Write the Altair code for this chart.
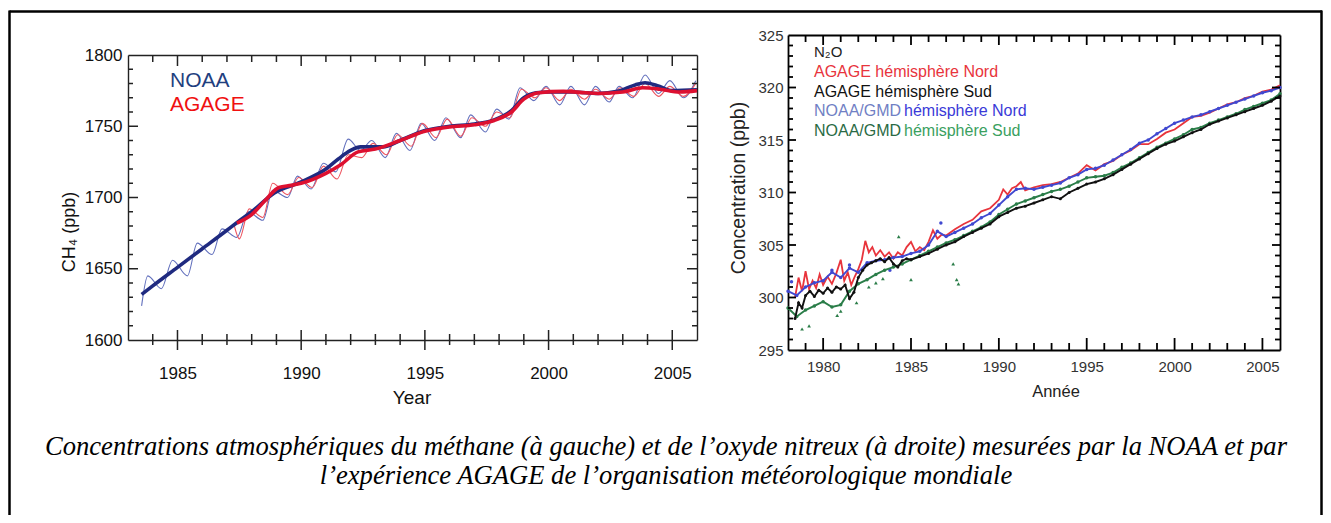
import altair as alt
import pandas as pd

W, H = 1315, 507

# ---------------- CH4 (left panel) ----------------
noaa_thin_year = [1983.55, 1983.8, 1984.35, 1984.8, 1985.4, 1985.8, 1986.4, 1986.8, 1987.4, 1987.85,
                  1988.45, 1988.85, 1989.45, 1989.85, 1990.4, 1990.9, 1991.4, 1991.9, 1992.4, 1992.85,
                  1993.4, 1993.85, 1994.4, 1994.85, 1995.4, 1995.85, 1996.45, 1996.85, 1997.45, 1997.9,
                  1998.4, 1998.85, 1999.4, 1999.9, 2000.45, 2000.9, 2001.45, 2001.9, 2002.45, 2002.85,
                  2003.4, 2003.9, 2004.45, 2004.9, 2005.45, 2005.95]
noaa_thin_val = [1624, 1645, 1636, 1656, 1645, 1668, 1660, 1678, 1672, 1690,
                 1684, 1705, 1700, 1715, 1706, 1724, 1718, 1741, 1733, 1740,
                 1728, 1745, 1733, 1752, 1740, 1756, 1742, 1758, 1746, 1762,
                 1755, 1777, 1768, 1778, 1765, 1778, 1765, 1778, 1767, 1778,
                 1770, 1786, 1773, 1782, 1770, 1782]

noaa_trend_year = [1983.55, 1984.0, 1985.0, 1986.0, 1987.0, 1987.45, 1988.0, 1988.9, 1990.0, 1991.0,
                   1991.5, 1992.0, 1992.4, 1993.3, 1994.0, 1995.0, 1996.0, 1997.0, 1997.8, 1998.5,
                   1999.0, 1999.5, 2000.0, 2001.0, 2002.0, 2002.8, 2003.5, 2003.9, 2004.4, 2005.0, 2006.0]
noaa_trend_val = [1632, 1638, 1651, 1664, 1677, 1683, 1690, 1703, 1711, 1720,
                  1727, 1733, 1735.5, 1735.5, 1740, 1747, 1750, 1751.5, 1754.5, 1761,
                  1770, 1773.5, 1774, 1774, 1773, 1774.5, 1779, 1780.5, 1778.5, 1775, 1775.5]

agage_thin_year = [1987.3, 1987.5, 1987.9, 1988.45, 1988.85, 1989.45, 1989.9, 1990.45, 1990.9, 1991.45,
                   1991.9, 1992.45, 1992.9, 1993.45, 1993.9, 1994.45, 1994.9, 1995.45, 1995.9, 1996.45,
                   1996.9, 1997.45, 1997.9, 1998.45, 1998.9, 1999.45, 1999.9, 2000.45, 2000.9, 2001.45,
                   2001.9, 2002.45, 2002.9, 2003.45, 2003.9, 2004.45, 2004.9, 2005.45, 2005.95]
agage_thin_val = [1680, 1671, 1692, 1686, 1710, 1702, 1714, 1707, 1722, 1713,
                  1730, 1728, 1738, 1730, 1744, 1736, 1752, 1742, 1755, 1743,
                  1756, 1750, 1760, 1756, 1776, 1770, 1777, 1768, 1776, 1769,
                  1776, 1769, 1777, 1771, 1780, 1771, 1778, 1771, 1780]

agage_trend_year = [1987.4, 1988.0, 1988.6, 1989.1, 1989.6, 1990.0, 1991.0, 1991.6, 1992.3, 1993.0,
                    1994.0, 1995.0, 1996.0, 1997.0, 1997.8, 1998.5, 1999.0, 1999.6, 2000.6, 2001.5,
                    2002.0, 2003.0, 2003.8, 2004.5, 2005.3, 2006.0]
agage_trend_val = [1682, 1688, 1699, 1707, 1708.5, 1710, 1717, 1723, 1732, 1734,
                   1740, 1746.5, 1749.5, 1751, 1754, 1760, 1769, 1773.5, 1774.5, 1773.5,
                   1773, 1774, 1777, 1776, 1774, 1775]

# ---------------- N2O (right panel) ----------------
agage_nh_year = [1978.4, 1978.6, 1978.8, 1979.0, 1979.2, 1979.4, 1979.6, 1979.8, 1980.0, 1980.25,
                 1980.5, 1980.75, 1981.0, 1981.2, 1981.4, 1981.6, 1981.8, 1982.0, 1982.2, 1982.4,
                 1982.6, 1982.8, 1983.0, 1983.25, 1983.5, 1983.75, 1984.0, 1984.25, 1984.5, 1984.75,
                 1985.0, 1985.25, 1985.5, 1985.75, 1986.0, 1986.25, 1986.5, 1986.75, 1987.0, 1987.5,
                 1988.0, 1988.5, 1989.0, 1989.5, 1990.0, 1990.25, 1990.5, 1990.75, 1991.0, 1991.25,
                 1991.5, 1992.0, 1992.5, 1993.0, 1993.5, 1994.0, 1994.5, 1995.0, 1995.5, 1996.0,
                 1996.5, 1997.0, 1997.5, 1998.0, 1998.5, 1999.0, 1999.5, 2000.0, 2000.5, 2001.0,
                 2001.5, 2002.0, 2002.5, 2003.0, 2003.5, 2004.0, 2004.5, 2005.0, 2005.5, 2006.0]
agage_nh_val = [300.0, 301.9, 300.6, 302.5, 300.8, 301.6, 300.9, 302.2, 301.2, 302.0,
                301.3, 302.3, 303.6, 301.6, 302.4, 301.2, 302.0, 302.7, 303.6, 305.4,
                304.3, 304.8, 304.0, 304.5, 303.9, 304.3, 303.7, 304.3, 304.0, 304.8,
                305.3, 304.4, 304.8, 304.5, 305.3, 306.4, 305.6, 306.0, 305.9, 306.5,
                307.0, 307.4, 308.2, 308.5, 309.3, 310.3, 309.8, 310.4, 310.6, 311.0,
                310.2, 310.5, 310.7, 310.8, 311.0, 311.4, 311.8, 312.6, 312.1, 312.7,
                313.0, 313.6, 314.0, 314.6, 314.6, 315.1, 315.7, 316.0, 316.6, 317.2,
                317.3, 317.6, 318.0, 318.4, 318.6, 319.0, 319.2, 319.6, 319.8, 320.2]

agage_sh_year = [1978.4, 1978.6, 1978.8, 1979.0, 1979.25, 1979.5, 1979.75, 1980.0, 1980.25, 1980.5,
                 1980.75, 1981.0, 1981.25, 1981.5, 1981.75, 1982.0, 1982.25, 1982.5, 1982.75, 1983.0,
                 1983.25, 1983.5, 1983.75, 1984.0, 1984.25, 1984.5, 1984.75, 1985.0, 1985.5, 1986.0,
                 1986.5, 1987.0, 1987.5, 1988.0, 1988.5, 1989.0, 1989.5, 1990.0, 1990.5, 1991.0,
                 1991.5, 1992.0, 1992.5, 1993.0, 1993.5, 1994.0, 1994.5, 1995.0, 1995.5, 1996.0,
                 1996.5, 1997.0, 1997.5, 1998.0, 1998.5, 1999.0, 1999.5, 2000.0, 2000.5, 2001.0,
                 2001.5, 2002.0, 2002.5, 2003.0, 2003.5, 2004.0, 2004.5, 2005.0, 2005.5, 2006.0]
agage_sh_val = [298.0, 299.5, 299.0, 300.2, 300.6, 300.1, 300.7, 300.4, 300.9, 300.5,
                301.0, 300.8, 301.2, 299.9, 300.5, 301.9, 302.6, 303.1, 303.3, 303.5,
                303.7, 303.4, 303.8, 303.2, 302.9, 303.5, 303.7, 303.6, 303.9, 304.2,
                304.6, 305.0, 305.3, 305.8, 306.2, 306.6, 307.0, 307.7, 308.1, 308.5,
                308.7, 309.0, 309.3, 309.6, 309.4, 310.0, 310.4, 310.8, 311.0, 311.3,
                311.7, 312.2, 312.7, 313.2, 313.7, 314.2, 314.6, 314.9, 315.3, 315.7,
                316.0, 316.5, 316.8, 317.1, 317.4, 317.7, 318.0, 318.3, 318.7, 319.2]

noaa_year = [1978.0, 1978.5, 1979.0, 1979.5, 1980.0, 1980.5, 1981.0, 1981.5, 1982.0, 1982.5,
             1983.0, 1983.5, 1984.0, 1984.5, 1985.0, 1985.5, 1986.0, 1986.5, 1987.0, 1987.5,
             1988.0, 1988.5, 1989.0, 1989.5, 1990.0, 1990.5, 1991.0, 1991.5, 1992.0, 1992.5,
             1993.0, 1993.5, 1994.0, 1994.5, 1995.0, 1995.5, 1996.0, 1996.5, 1997.0, 1997.5,
             1998.0, 1998.5, 1999.0, 1999.5, 2000.0, 2000.5, 2001.0, 2001.5, 2002.0, 2002.5,
             2003.0, 2003.5, 2004.0, 2004.5, 2005.0, 2005.5, 2006.0]
noaa_nh_val = [300.6, 300.2, 301.0, 301.4, 301.6, 302.4, 301.9, 302.8, 302.4, 303.3,
               303.5, 303.6, 303.8, 303.9, 304.2, 304.4, 305.0, 306.3, 305.8, 306.2,
               306.6, 307.0, 307.6, 308.0, 308.8, 309.6, 310.3, 310.4, 310.3, 310.5,
               310.7, 310.9, 311.4, 311.7, 312.2, 312.3, 312.6, 313.1, 313.6, 314.1,
               314.7, 315.0, 315.6, 316.1, 316.6, 316.9, 317.2, 317.4, 317.7, 318.0,
               318.3, 318.6, 318.9, 319.2, 319.5, 319.7, 320.0]
noaa_sh_val = [299.0, 298.2, 298.8, 299.2, 299.6, 299.1, 299.3, 300.6, 301.3, 301.7,
               302.2, 302.6, 302.9, 303.2, 303.6, 304.0, 304.4, 304.8, 305.2, 305.5,
               305.9, 306.3, 306.7, 307.2, 307.9, 308.4, 308.9, 309.2, 309.5, 309.8,
               310.1, 310.3, 310.6, 311.0, 311.4, 311.5, 311.6, 311.9, 312.4, 312.8,
               313.3, 313.8, 314.3, 314.7, 315.1, 315.5, 316.0, 316.2, 316.6, 316.9,
               317.2, 317.5, 317.9, 318.2, 318.5, 318.8, 319.4]

noaa_sh_out_year = [1978.8, 1979.2, 1980.8, 1981.0, 1981.9, 1982.6, 1983.0, 1983.4, 1984.3, 1985.0,
                    1987.4, 1987.6, 1987.7]
noaa_sh_out_val = [297.0, 297.3, 298.3, 298.7, 299.5, 301.0, 301.4, 301.8, 305.8, 301.7,
                   303.2, 301.7, 301.3]
noaa_nh_out_year = [1978.2, 1980.5, 1981.5, 1983.8, 1986.7]
noaa_nh_out_val = [301.5, 302.6, 303.1, 302.6, 307.1]

caption_lines = ["Concentrations atmosphériques du méthane (à gauche) et de l\u2019oxyde nitreux (à droite) mesurées par la NOAA et par",
                 "l\u2019expérience AGAGE de l\u2019organisation météorologique mondiale"]

# tick values
ch4_year_major = [1985, 1990, 1995, 2000, 2005]
ch4_year_minor = [1984, 1986, 1987, 1988, 1989, 1991, 1992, 1993, 1994, 1996, 1997, 1998, 1999,
                  2001, 2002, 2003, 2004]
ch4_val_labels = [1600, 1650, 1700, 1750, 1800]
ch4_val_major = [1650, 1700, 1750]
ch4_val_minor = [1610, 1620, 1630, 1640, 1660, 1670, 1680, 1690, 1710, 1720, 1730, 1740,
                 1760, 1770, 1780, 1790]
n2o_year_major = [1980, 1985, 1990, 1995, 2000, 2005]
n2o_year_minor = [1979, 1981, 1982, 1983, 1984, 1986, 1987, 1988, 1989, 1991, 1992, 1993, 1994,
                  1996, 1997, 1998, 1999, 2001, 2002, 2003, 2004]
n2o_val_labels = [295, 300, 305, 310, 315, 320, 325]
n2o_val_major = [300, 305, 310, 315, 320]
n2o_val_minor = [296, 297, 298, 299, 301, 302, 303, 304, 306, 307, 308, 309, 311, 312, 313, 314,
                 316, 317, 318, 319, 321, 322, 323, 324]

# ---------------- geometry ----------------
L = dict(x0=120, x1=689, yb=332, yt=47, xd=[1983, 2006], yd=[1600, 1800])
R = dict(x0=780, x1=1272, yb=342, yt=27, xd=[1978, 2006], yd=[295, 325])


def xs(p):
    return alt.Scale(domain=p["xd"], range=[p["x0"], p["x1"]], nice=False, zero=False)


def ys(p):
    return alt.Scale(domain=p["yd"], range=[p["yb"], p["yt"]], nice=False, zero=False)


def line_layer(p, years, vals, color, width, interp="linear"):
    df = pd.DataFrame({"t": years, "v": vals})
    return alt.Chart(df).mark_line(color=color, strokeWidth=width, interpolate=interp).encode(
        x=alt.X("t:Q", scale=xs(p), axis=None),
        y=alt.Y("v:Q", scale=ys(p), axis=None))


def point_layer(p, years, vals, color, size, shape="circle"):
    df = pd.DataFrame({"t": years, "v": vals})
    return alt.Chart(df).mark_point(color=color, filled=True, size=size, shape=shape, opacity=1).encode(
        x=alt.X("t:Q", scale=xs(p), axis=None),
        y=alt.Y("v:Q", scale=ys(p), axis=None))


def axis_layer(p, ch, orient, offset, values, labels, color, width, font, fsize, pad, lcolor):
    kw = dict(orient=orient, offset=offset, grid=False, title=None, labels=labels, domain=True,
              ticks=False, values=values, domainColor=color, domainWidth=width, format="d",
              labelFont=font, labelFontSize=fsize, labelPadding=pad, labelColor=lcolor)
    ax = alt.Axis(**kw)
    dom = p["xd"] if ch == "x" else p["yd"]
    df = pd.DataFrame({"d": dom})
    if ch == "x":
        enc = dict(x=alt.X("d:Q", scale=xs(p), axis=ax))
    else:
        enc = dict(y=alt.Y("d:Q", scale=ys(p), axis=ax))
    return alt.Chart(df).mark_point(opacity=0).encode(**enc)


def tick_layer(p, side, values, inner, outer, color, width):
    """Tick marks: rules placed by the panel scale, drawn across the frame edge."""
    df = pd.DataFrame({"k": values})
    m = alt.Chart(df).mark_rule(color=color, strokeWidth=width)
    if side == "bottom":
        return m.encode(x=alt.X("k:Q", scale=xs(p), axis=None),
                        y=alt.value(p["yb"] - inner), y2=alt.value(p["yb"] + outer))
    if side == "top":
        return m.encode(x=alt.X("k:Q", scale=xs(p), axis=None),
                        y=alt.value(p["yt"] - outer), y2=alt.value(p["yt"] + inner))
    if side == "left":
        return m.encode(y=alt.Y("k:Q", scale=ys(p), axis=None),
                        x=alt.value(p["x0"] - outer), x2=alt.value(p["x0"] + inner))
    return m.encode(y=alt.Y("k:Q", scale=ys(p), axis=None),
                    x=alt.value(p["x1"] - inner), x2=alt.value(p["x1"] + outer))


def box_axes(p, xlab, ylab, color, width, font, fsize, xpad, ypad, lcolor):
    return [
        axis_layer(p, "x", "bottom", p["yb"] - H, xlab, True, color, width, font, fsize, xpad, lcolor),
        axis_layer(p, "x", "top", -p["yt"], xlab, False, color, width, font, fsize, xpad, lcolor),
        axis_layer(p, "y", "left", -p["x0"], ylab, True, color, width, font, fsize, ypad, lcolor),
        axis_layer(p, "y", "right", p["x1"] - W, ylab, False, color, width, font, fsize, ypad, lcolor),
    ]


def box_ticks(p, xmaj, xmin, ymaj, ymin, t, color, width):
    (bmaj_in, bmaj_out, bmin_in, bmin_out, tmaj, tmin, lmaj, lmin, rmaj, rmin) = t
    return [
        tick_layer(p, "bottom", xmaj, bmaj_in, bmaj_out, color, width),
        tick_layer(p, "bottom", xmin, bmin_in, bmin_out, color, width),
        tick_layer(p, "top", xmaj, tmaj, 0, color, width),
        tick_layer(p, "top", xmin, tmin, 0, color, width),
        tick_layer(p, "left", ymaj, lmaj, 0, color, width),
        tick_layer(p, "left", ymin, lmin, 0, color, width),
        tick_layer(p, "right", ymaj, rmaj, 0, color, width),
        tick_layer(p, "right", ymin, rmin, 0, color, width),
    ]


def text_layer(txt, x, y, size, color="#000", font="Liberation Sans", align="left", angle=0,
               style="normal"):
    df = pd.DataFrame({"s": [txt]})
    return alt.Chart(df).mark_text(font=font, fontSize=size, color=color, align=align,
                                   baseline="middle", angle=angle, fontStyle=style).encode(
        text="s:N", x=alt.value(x), y=alt.value(y))


layers = []

# left panel data
layers.append(line_layer(L, noaa_thin_year, noaa_thin_val, "#6270bd", 1.1, "monotone"))
layers.append(line_layer(L, agage_thin_year, agage_thin_val, "#ee5560", 1.1, "monotone"))
layers.append(line_layer(L, noaa_trend_year, noaa_trend_val, "#1f2a80", 3.6, "monotone"))
layers.append(line_layer(L, agage_trend_year, agage_trend_val, "#dd1030", 3.6, "monotone"))

# right panel data
layers.append(line_layer(R, agage_nh_year, agage_nh_val, "#e8343c", 1.8))
layers.append(line_layer(R, noaa_year, noaa_nh_val, "#4048d0", 1.9))
layers.append(point_layer(R, noaa_year, noaa_nh_val, "#4048d0", 12))
layers.append(point_layer(R, noaa_nh_out_year, noaa_nh_out_val, "#4048d0", 12))
layers.append(line_layer(R, noaa_year, noaa_sh_val, "#2a7d48", 1.9))
layers.append(point_layer(R, noaa_year, noaa_sh_val, "#2a7d48", 12))
layers.append(point_layer(R, noaa_sh_out_year, noaa_sh_out_val, "#2a7d48", 14, "triangle-up"))
layers.append(line_layer(R, agage_sh_year, agage_sh_val, "#111111", 1.9))
layers.append(point_layer(R, agage_sh_year, agage_sh_val, "#111111", 9))

# panel frames with labels
layers += box_axes(L, ch4_year_major, ch4_val_labels, "#222222", 1.4, "Liberation Sans", 17, 25, 6,
                   "#111111")
layers += box_axes(R, n2o_year_major, n2o_val_labels, "#000000", 1.8, "Liberation Sans", 15, 9, 5,
                   "#333333")

# left panel texts
layers.append(text_layer("NOAA", 162, 73, 21, "#1f407f"))
layers.append(text_layer("AGAGE", 162, 97, 21, "#f01010"))
layers.append(text_layer("CH\u2084 (ppb)", 62, 224, 18, "#111111", align="center", angle=270))
layers.append(text_layer("Year", 404, 390, 19, "#111111", align="center"))

# right panel texts
layers.append(text_layer("N\u2082O", 806, 44, 15, "#222222"))
layers.append(text_layer("AGAGE hémisphère Nord", 806, 64, 16, "#e8343c"))
layers.append(text_layer("AGAGE hémisphère Sud", 806, 84, 16, "#111111"))
layers.append(text_layer("NOAA/GMD", 806, 103, 16, "#7080c4"))
layers.append(text_layer("hémisphère Nord", 896, 103, 16, "#3a3ad8"))
layers.append(text_layer("NOAA/GMD", 806, 123, 16, "#2a6a44"))
layers.append(text_layer("hémisphère Sud", 896, 123, 16, "#3aa060"))
layers.append(text_layer("Concentration (ppb)", 731, 180, 19.5, "#222222", align="center", angle=270))
layers.append(text_layer("Année", 1048, 384, 16.5, "#222222", align="center"))

# caption
layers.append(text_layer(caption_lines[0], 658, 439, 26.6, "#000000", font="Liberation Serif",
                         align="center", style="italic"))
layers.append(text_layer(caption_lines[1], 658, 468, 26.6, "#000000", font="Liberation Serif",
                         align="center", style="italic"))

# figure border
frame_df = pd.DataFrame({"k": [0]})
layers.append(alt.Chart(frame_df).mark_rule(color="black", strokeWidth=2.5).encode(
    x=alt.value(1.5), y=alt.value(2.5), y2=alt.value(H)))
layers.append(alt.Chart(frame_df).mark_rule(color="black", strokeWidth=2.5).encode(
    x=alt.value(1.5), x2=alt.value(1314), y=alt.value(3.5)))
layers.append(alt.Chart(frame_df).mark_rule(color="black", strokeWidth=2.5).encode(
    x=alt.value(1313.5), y=alt.value(2.5), y2=alt.value(H)))

# tick marks (drawn last)
layers += box_ticks(L, ch4_year_major, ch4_year_minor, ch4_val_major, ch4_val_minor,
                    (10, 10, 6, 5, 11, 7, 10, 5, 10, 5), "#222222", 1.5)
layers += box_ticks(R, n2o_year_major, n2o_year_minor, n2o_val_major, n2o_val_minor,
                    (12, 0, 7, 0, 10, 7, 8, 5, 8, 5), "#000000", 1.8)

chart = alt.layer(*layers).resolve_scale(x="independent", y="independent").resolve_axis(
    x="independent", y="independent").properties(
    width=W, height=H, autosize=alt.AutoSizeParams(type="none"), padding=0,
    background="white").configure_view(stroke=None)

chart.save("out.html", embed_options={"renderer": "svg", "actions": False})
